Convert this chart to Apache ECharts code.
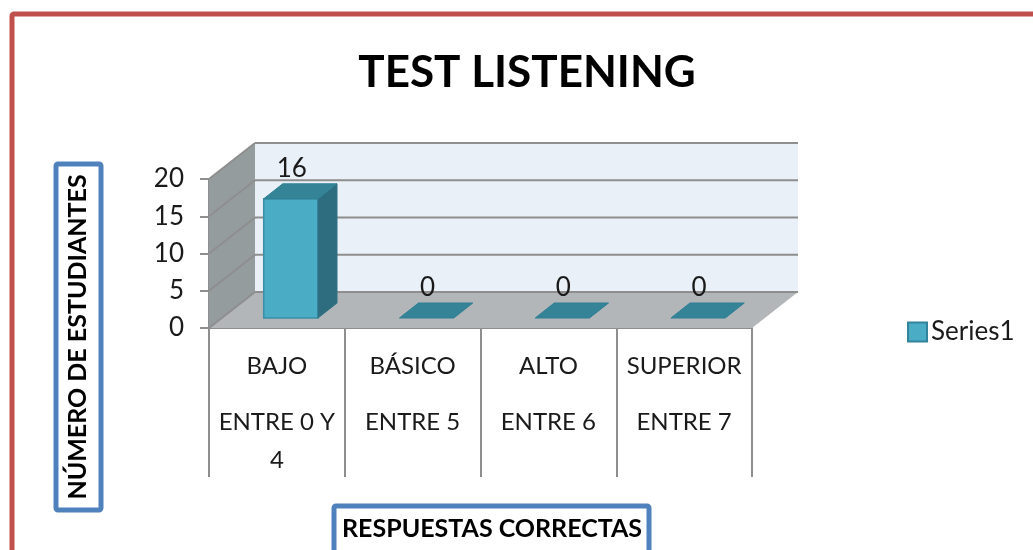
<!DOCTYPE html>
<html>
<head>
<meta charset="utf-8">
<title>TEST LISTENING</title>
<script src="https://cdn.jsdelivr.net/npm/echarts@6/dist/echarts.min.js"></script>
<style>
    html, body { margin: 0; padding: 0; background: #fff; }
    #chart { width: 1033px; height: 550px; }
</style>
</head>
<body>
<div id="chart"></div>
<script>
    // datos
    var categories = ['BAJO', 'BÁSICO', 'ALTO', 'SUPERIOR'];
    var ranges = ['ENTRE 0 Y\n4', 'ENTRE 5', 'ENTRE 6', 'ENTRE 7'];
    var values = [16, 0, 0, 0];
    var yTicks = [0, 5, 10, 15, 20];

    var FONT = 'Lato';
    var TEXT = '#1a1a1a';
    var LINE = '#8e8e8e';
    var DX = 46, DY = -36;          // profundidad de la caja 3D
    var BAR_DX = 19, BAR_DY = -15;  // profundidad de cada barra

    function poly(points, fill, stroke, width) {
        return {
            type: 'polygon',
            shape: { points: points },
            style: { fill: fill, stroke: stroke || null, lineWidth: width || 0 }
        };
    }

    function gridLine(x1, y1, x2, y2) {
        return {
            type: 'line',
            shape: { x1: x1, y1: y1, x2: x2, y2: y2 },
            style: { stroke: LINE, lineWidth: 2 }
        };
    }

    // paredes y piso
    function renderWalls(params, api) {
        var c = params.coordSys;
        var left = c.x, right = c.x + c.width;
        var y0 = api.coord([0, 0])[1];
        var yTop = api.coord([0, yTicks[yTicks.length - 1]])[1];
        var children = [
            poly([[left, y0], [left, yTop], [left + DX, yTop + DY], [left + DX, y0 + DY]], '#959c9e'),
            poly([[left + DX, y0 + DY], [left + DX, yTop + DY], [right + DX, yTop + DY], [right + DX, y0 + DY]], '#e9f0f7'),
            poly([[left, y0], [left + DX, y0 + DY], [right + DX, y0 + DY], [right, y0]], '#b2b6b9')
        ];
        yTicks.forEach(function (t) {
            var y = api.coord([0, t])[1];
            children.push(gridLine(left, y, left + DX, y + DY));
            children.push(gridLine(left + DX, y + DY, right + DX, y + DY));
        });
        return { type: 'group', children: children };
    }

    // barras con cara frontal, lateral y superior
    function renderBar(params, api) {
        var value = api.value(1);
        var pos = api.coord([api.value(0), value]);
        var base = api.coord([api.value(0), 0]);
        var band = api.size([1, 0])[0];
        var w = band * 0.4;
        var x = pos[0] + band * 0.103 - w / 2;
        var yb = base[1] - 10;
        var yt = pos[1] - 10;
        var children = [];
        if (value > 0) {
            children.push(poly([[x, yb], [x, yt], [x + w, yt], [x + w, yb]], '#4bacc6', '#3a8ea6', 1.5));
            children.push(poly([[x + w, yb], [x + w, yt], [x + w + BAR_DX, yt + BAR_DY], [x + w + BAR_DX, yb + BAR_DY]], '#2e6d80', '#2f7286', 1));
        }
        children.push(poly([[x, yt], [x + BAR_DX, yt + BAR_DY], [x + w + BAR_DX, yt + BAR_DY], [x + w, yt]], '#358397', '#2f7f95', 1));
        children.push({
            type: 'text',
            style: {
                text: String(value),
                x: x + w / 2 + 1,
                y: yt - 30,
                align: 'center',
                verticalAlign: 'middle',
                fill: TEXT,
                font: '26px ' + FONT
            }
        });
        return { type: 'group', children: children };
    }

    var myChart = echarts.init(document.getElementById('chart'));
    myChart.setOption({
        animation: false,
        backgroundColor: '#fff',
        textStyle: { fontFamily: FONT },
        title: {
            text: 'TEST LISTENING',
            left: 522,
            textAlign: 'center',
            top: 46,
            textStyle: { fontFamily: FONT, fontSize: 44, fontWeight: 'bold', color: '#000' }
        },
        legend: {
            data: ['Series1'],
            left: 902,
            top: 314,
            icon: 'rect',
            itemWidth: 19,
            itemHeight: 19,
            itemGap: 0,
            textStyle: { fontFamily: FONT, fontSize: 26, color: TEXT, padding: [0, 0, 0, -1] }
        },
        grid: { left: 209, top: 179, width: 543, height: 149 },
        xAxis: {
            type: 'category',
            data: categories,
            axisLine: { lineStyle: { color: LINE, width: 2 } },
            axisTick: { show: true, length: 149, lineStyle: { color: LINE, width: 2 } },
            axisLabel: {
                interval: 0,
                margin: 19,
                formatter: function (value, index) {
                    var lines = ranges[index].split('\n').map(function (s) { return '{t|' + s + '}'; });
                    return '{t|' + value + '}\n{s| }\n' + lines.join('\n');
                },
                rich: {
                    t: { fontFamily: FONT, fontSize: 24, lineHeight: 38, color: TEXT },
                    s: { fontSize: 10, lineHeight: 18 }
                }
            }
        },
        yAxis: {
            type: 'value',
            min: 0,
            max: 20,
            interval: 5,
            splitLine: { show: false },
            axisLine: { show: true, lineStyle: { color: LINE, width: 2 } },
            axisTick: { show: true, length: 9, lineStyle: { color: LINE, width: 2 } },
            axisLabel: { margin: 25, fontFamily: FONT, fontSize: 26, color: TEXT, padding: [3, 0, 0, 0] }
        },
        series: [
            {
                name: 'walls',
                type: 'custom',
                silent: true,
                z: 1,
                renderItem: renderWalls,
                data: [[0, 0]]
            },
            {
                name: 'Series1',
                type: 'custom',
                z: 3,
                itemStyle: { color: '#4bacc6', borderColor: '#31849b', borderWidth: 2 },
                renderItem: renderBar,
                encode: { x: 0, y: 1 },
                data: values.map(function (v, i) { return [i, v]; })
            }
        ],
        graphic: [
            {
                type: 'rect',
                silent: true,
                z: 10,
                shape: { x: 12, y: 14, width: 1100, height: 600, r: 2 },
                style: { fill: null, stroke: '#c0504d', lineWidth: 5 }
            },
            {
                type: 'rect',
                silent: true,
                z: 10,
                shape: { x: 56, y: 164, width: 45, height: 346, r: 2 },
                style: { fill: '#fff', stroke: '#4f81bd', lineWidth: 5 }
            },
            {
                type: 'text',
                silent: true,
                z: 11,
                x: 78,
                y: 337,
                rotation: Math.PI / 2,
                style: {
                    text: 'NÚMERO DE ESTUDIANTES',
                    align: 'center',
                    verticalAlign: 'middle',
                    fill: '#000',
                    font: 'bold 25px ' + FONT
                }
            },
            {
                type: 'rect',
                silent: true,
                z: 10,
                shape: { x: 334, y: 506, width: 315, height: 60, r: 2 },
                style: { fill: '#fff', stroke: '#4f81bd', lineWidth: 5 }
            },
            {
                type: 'text',
                silent: true,
                z: 11,
                x: 492,
                y: 529,
                style: {
                    text: 'RESPUESTAS CORRECTAS',
                    align: 'center',
                    verticalAlign: 'middle',
                    fill: '#000',
                    font: 'bold 25px ' + FONT
                }
            }
        ]
    });
</script>
</body>
</html>
